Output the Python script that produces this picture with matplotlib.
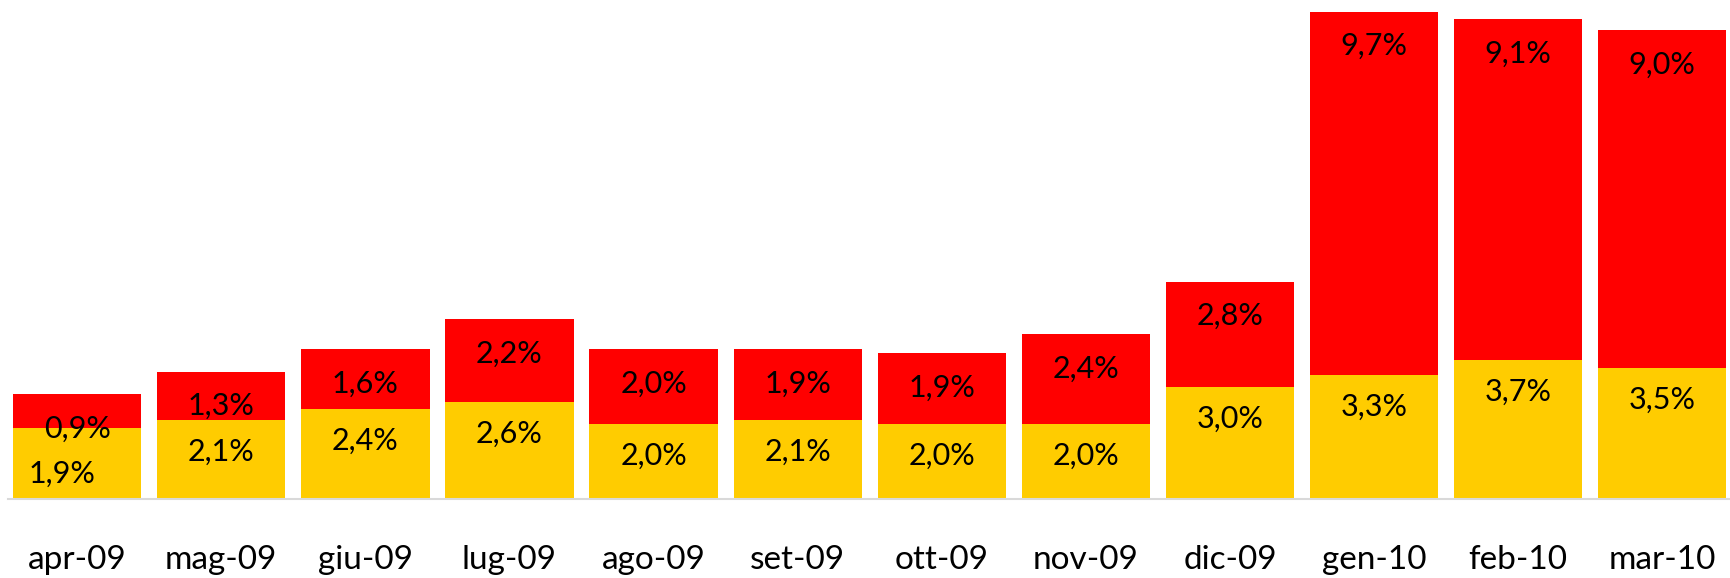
import numpy as np
from matplotlib import pyplot as plt

mesi = ["apr-09", "mag-09", "giu-09", "lug-09", "ago-09", "set-09",
        "ott-09", "nov-09", "dic-09", "gen-10", "feb-10", "mar-10"]
base = [1.9, 2.1, 2.4, 2.6, 2.0, 2.1, 2.0, 2.0, 3.0, 3.3, 3.7, 3.5]
extra = [0.9, 1.3, 1.6, 2.2, 2.0, 1.9, 1.9, 2.4, 2.8, 9.7, 9.1, 9.0]

GIALLO = "#FFCC00"
ROSSO = "#FF0000"

plt.rcParams['font.family'] = ['Lato', 'DejaVu Sans']

fig = plt.figure(figsize=(17.3, 5.78), dpi=100)
ax = fig.add_axes([8/1730, 79/578, 1 - 8/1730, 1 - 79/578])

x = np.arange(len(mesi))
larg = 0.89
ax.bar(x, base, width=larg, color=GIALLO, zorder=2)
ax.bar(x, extra, width=larg, bottom=base, color=ROSSO, zorder=2)

ax.set_xlim(-(77.2 - 8) / 144.1, -(77.2 - 8) / 144.1 + (1730 - 8) / 144.1)
ax.set_ylim(0, 499 / 37.5)

for i in range(len(mesi)):
    top_b = base[i]
    top_r = base[i] + extra[i]
    dx, dy = 0, -23
    if i == 0:
        dx, dy = -11, -33
    ax.annotate("{:.1f}%".format(base[i]).replace(".", ","), (i, top_b),
                xytext=(dx, dy), textcoords="offset points",
                ha="center", va="center", fontsize=22, zorder=3)
    ax.annotate("{:.1f}%".format(extra[i]).replace(".", ","), (i, top_r),
                xytext=(0, -25), textcoords="offset points",
                ha="center", va="center", fontsize=22, zorder=3)

for s in ["top", "left", "right"]:
    ax.spines[s].set_visible(False)
ax.spines["bottom"].set_color("#D9D9D9")
ax.spines["bottom"].set_linewidth(1.5)
ax.set_yticks([])
ax.set_xticks(x)
ax.set_xticklabels(mesi, fontsize=24)
ax.tick_params(axis="x", length=0, pad=33)

fig.savefig("out.png", dpi=100)
plt.close()
